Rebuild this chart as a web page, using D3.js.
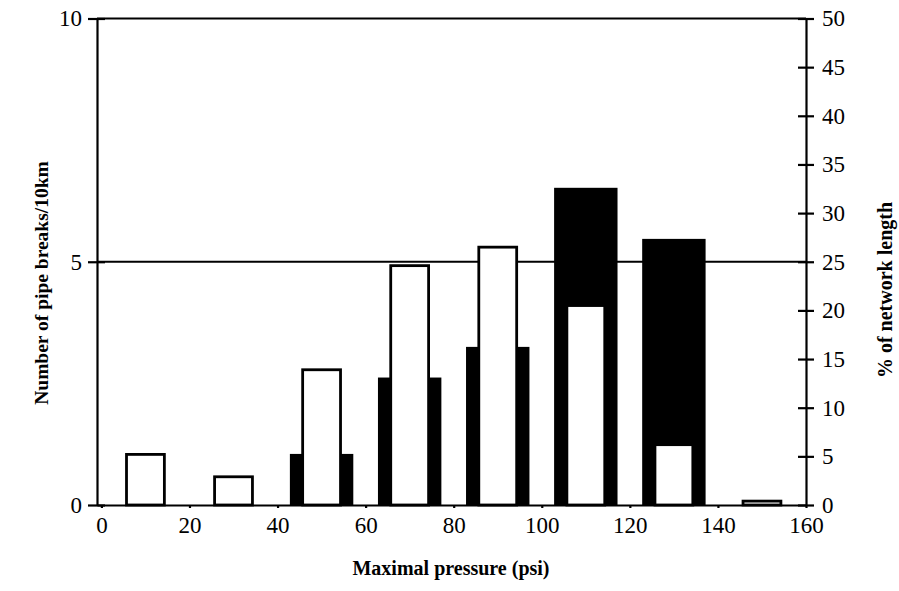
<!DOCTYPE html>
<html>
<head>
<meta charset="utf-8">
<script src="https://cdn.jsdelivr.net/npm/d3@7"></script>
<style>
    body { margin: 0; background: #fff; }
    svg text { font-family: "Liberation Serif", "Times New Roman", serif; fill: #000; }
</style>
</head>
<body>
<script>
'use strict';
// bin centres (psi)
const pressures = [10, 30, 50, 70, 90, 110, 130, 150];
// black bars, left axis
const breaksPer10km = [0, 0, 1.05, 2.62, 3.25, 6.52, 5.47, 0];
// white bars, right axis
const networkPct = [5.2, 2.9, 13.9, 24.6, 26.5, 20.5, 6.2, 0.4];
const xTicks = [0, 20, 40, 60, 80, 100, 120, 140, 160];
const leftTicks = [0, 5, 10];
const rightTicks = [0, 5, 10, 15, 20, 25, 30, 35, 40, 45, 50];

(function() {
    let svgContainer = '';
    let box = { left: 97, right: 806, top: 18.5, bottom: 505 };
    let blackWidth = 14.4;
    let whiteWidth = 8.6;

    window.onload = () => {
        svgContainer = d3.select('body')
                        .append('svg')
                        .attr('width', 899)
                        .attr('height', 591);
        drawChart();
    }

    function drawChart() {
        let x_scale = d3.scaleLinear()
                        .domain([-1, 160])
                        .range([box.left, box.right]);
        let yLeft = d3.scaleLinear()
                        .domain([0, 10])
                        .range([box.bottom, box.top]);
        let yRight = d3.scaleLinear()
                        .domain([0, 50])
                        .range([box.bottom, box.top]);

        let rows = pressures.map((p, i) => ({ p: p, breaks: breaksPer10km[i], pct: networkPct[i] }));

        // frame top + line at 5
        svgContainer.append('line')
                    .attr('x1', box.left).attr('x2', box.right)
                    .attr('y1', box.top).attr('y2', box.top)
                    .attr('stroke', 'black').attr('stroke-width', 2.2);
        svgContainer.append('line')
                    .attr('x1', box.left).attr('x2', box.right)
                    .attr('y1', yLeft(5)).attr('y2', yLeft(5))
                    .attr('stroke', 'black').attr('stroke-width', 1.8);

        // black bars (pipe breaks)
        svgContainer.selectAll('.black')
                    .data(rows.filter((d) => d.breaks > 0))
                    .enter()
                    .append('rect')
                    .attr('class', 'black')
                    .attr('x', (d) => x_scale(d.p - blackWidth / 2))
                    .attr('width', (d) => x_scale(d.p + blackWidth / 2) - x_scale(d.p - blackWidth / 2))
                    .attr('y', (d) => yLeft(d.breaks))
                    .attr('height', (d) => box.bottom - yLeft(d.breaks))
                    .attr('fill', 'black');

        // white bars (% of network length)
        svgContainer.selectAll('.white')
                    .data(rows)
                    .enter()
                    .append('rect')
                    .attr('class', 'white')
                    .attr('x', (d) => x_scale(d.p - whiteWidth / 2))
                    .attr('width', (d) => x_scale(d.p + whiteWidth / 2) - x_scale(d.p - whiteWidth / 2))
                    .attr('y', (d) => yRight(d.pct))
                    .attr('height', (d) => box.bottom - yRight(d.pct))
                    .attr('fill', 'white')
                    .attr('stroke', 'black')
                    .attr('stroke-width', 2.8);

        // axes
        let x_axis = d3.axisBottom(x_scale).tickValues(xTicks).tickSize(3).tickSizeOuter(0);
        let gx = svgContainer.append('g')
                    .attr('transform', 'translate(0, ' + box.bottom + ')')
                    .call(x_axis);
        gx.selectAll('text').attr('y', 12).style('font-size', '23px');

        let left_axis = d3.axisLeft(yLeft).tickValues(leftTicks).tickSizeOuter(0);
        let gl = svgContainer.append('g')
                    .attr('transform', 'translate(' + box.left + ', 0)')
                    .call(left_axis);
        gl.selectAll('.tick line').attr('x1', -9).attr('x2', 8);
        gl.selectAll('text').attr('x', -15).style('font-size', '23px');

        let right_axis = d3.axisRight(yRight).tickValues(rightTicks).tickSizeOuter(0);
        let gr = svgContainer.append('g')
                    .attr('transform', 'translate(' + box.right + ', 0)')
                    .call(right_axis);
        gr.selectAll('.tick line').attr('x1', -8).attr('x2', 8);
        gr.selectAll('text').attr('x', 16).style('font-size', '23px');

        [gx, gl, gr].forEach((g) => {
            g.attr('font-family', null).attr('font-size', null);
            g.selectAll('path, line').attr('stroke', 'black').attr('stroke-width', 2.2);
        });

        // titles
        svgContainer.append('text')
                    .attr('x', 451)
                    .attr('y', 575)
                    .attr('text-anchor', 'middle')
                    .style('font-size', '20px')
                    .style('font-weight', 'bold')
                    .text('Maximal pressure (psi)');
        svgContainer.append('text')
                    .attr('transform', 'translate(48, 283) rotate(-90)')
                    .attr('text-anchor', 'middle')
                    .style('font-size', '19.5px')
                    .style('font-weight', 'bold')
                    .text('Number of pipe breaks/10km');
        svgContainer.append('text')
                    .attr('transform', 'translate(892, 290) rotate(-90)')
                    .attr('text-anchor', 'middle')
                    .style('font-size', '20px')
                    .style('font-weight', 'bold')
                    .text('% of network length');
    }
})();
</script>
</body>
</html>
